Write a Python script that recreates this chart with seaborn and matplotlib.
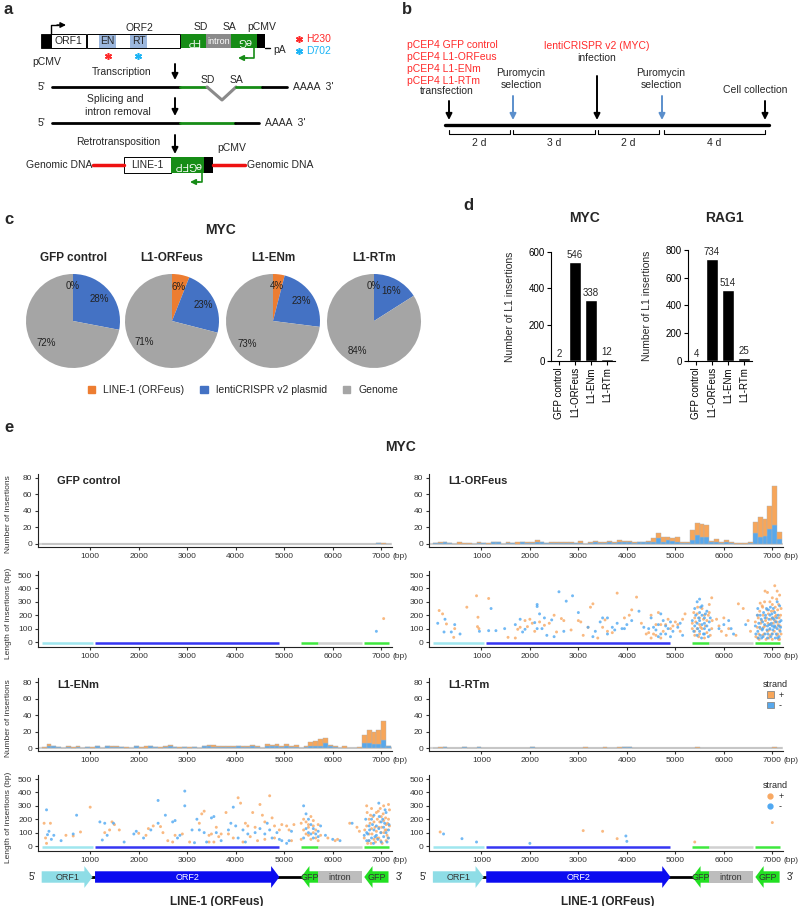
import numpy as np
import pandas as pd
import seaborn as sns
import matplotlib.pyplot as plt
from matplotlib.patches import Rectangle, Polygon, Patch
from matplotlib.lines import Line2D

sns.set_theme(style="ticks", rc={
    "axes.linewidth": 0.8,
    "axes.edgecolor": "#222222",
    "xtick.major.size": 2.5,
    "ytick.major.size": 2.5,
    "xtick.major.width": 0.8,
    "ytick.major.width": 0.8,
    "xtick.major.pad": 1.5,
    "ytick.major.pad": 1.5,
})
plt.rcParams["font.family"] = ["Liberation Sans", "DejaVu Sans"]

W, H = 799, 906

# ---------------- data ----------------
samples = ["GFP control", "L1-ORFeus", "L1-ENm", "L1-RTm"]
pie_line1 = [0, 6, 4, 0]
pie_plasmid = [28, 23, 23, 16]
pie_genome = [72, 71, 73, 84]
pie_labels = ["LINE-1 (ORFeus)", "lentiCRISPR v2 plasmid", "Genome"]

myc_insertions = [2, 546, 338, 12]
rag1_insertions = [4, 734, 514, 25]

# histogram bins of 100 bp along LINE-1 (ORFeus)
bin_starts = list(range(0, 7200, 100))
orfeus_minus_bins = [1, 1, 2, 1, 0, 0, 0, 0, 0, 1, 1, 0, 2, 2, 0, 1, 1, 0, 2, 1,
                     1, 3, 2, 1, 1, 1, 1, 1, 1, 1, 1, 0, 1, 2, 1, 1, 2, 1, 2, 2,
                     3, 1, 2, 2, 3, 2, 7, 3, 5, 4, 2, 1, 1, 5, 11, 8, 8, 2, 2, 1,
                     2, 1, 0, 0, 0, 1, 13, 8, 10, 18, 23, 6]
orfeus_plus_bins = [0, 1, 0, 0, 0, 3, 1, 1, 0, 2, 0, 1, 0, 0, 0, 1, 0, 2, 0, 1,
                    1, 2, 1, 0, 1, 1, 1, 2, 2, 0, 3, 0, 2, 2, 2, 2, 2, 2, 3, 2,
                    1, 2, 1, 1, 1, 5, 6, 5, 3, 3, 6, 1, 2, 12, 14, 16, 15, 2, 4, 2,
                    3, 2, 1, 1, 1, 1, 14, 25, 20, 28, 47, 9]
enm_minus_bins = [0, 2, 2, 1, 0, 1, 0, 1, 0, 1, 0, 2, 0, 2, 1, 1, 1, 0, 0, 2,
                  0, 0, 2, 1, 0, 1, 3, 1, 0, 1, 0, 1, 0, 2, 2, 1, 1, 1, 1, 1,
                  2, 1, 1, 2, 1, 0, 2, 2, 3, 1, 2, 1, 1, 0, 1, 2, 3, 3, 6, 2,
                  1, 0, 0, 0, 0, 0, 6, 6, 5, 5, 10, 2]
enm_plus_bins = [1, 3, 0, 0, 0, 1, 1, 1, 0, 0, 1, 0, 0, 0, 1, 2, 0, 1, 0, 0,
                 1, 2, 0, 0, 1, 1, 1, 0, 1, 0, 1, 0, 0, 1, 2, 3, 1, 2, 2, 1,
                 1, 2, 2, 2, 2, 0, 3, 2, 2, 1, 3, 2, 3, 0, 2, 5, 6, 8, 6, 2,
                 1, 0, 3, 0, 0, 1, 10, 16, 15, 17, 23, 1]

# insertion position (bp) and insertion length (bp)
gfp_plus = [(7050, 175)]
gfp_minus = [(6900, 80)]

rtm_plus = [(150, 105), (3100, 115), (3500, 110), (3800, 55), (5400, 30), (7000, 175)]
rtm_minus = [(220, 90), (600, 55), (900, 30), (2000, 20), (3980, 75), (4000, 35)]

orfeus_plus = [
    (130, 235), (200, 210), (280, 135), (450, 100), (430, 35), (700, 260), (900, 345), (930, 185),
    (920, 115), (950, 100), (1150, 325), (1550, 35), (1700, 30), (1750, 95), (1900, 160), (1950, 115),
    (2000, 170), (1800, 110), (2050, 140), (2200, 150), (2500, 200), (2550, 75), (2650, 175), (2700, 160),
    (2850, 90), (2400, 140), (2300, 125), (2100, 80), (3000, 160), (3050, 150), (3250, 260), (3300, 285),
    (3200, 110), (3400, 30), (3500, 110), (3550, 165), (3700, 70), (3800, 365), (3950, 180), (3600, 80),
    (3100, 50), (4100, 240), (4200, 335), (4050, 200), (4300, 140), (4400, 60), (4450, 70), (4500, 200),
    (4550, 60), (4600, 50), (4650, 220), (4700, 130), (4750, 80), (4800, 130), (4850, 170), (4900, 100),
    (4950, 120), (5000, 150), (4600, 130), (4500, 30), (4700, 30), (5050, 130), (5100, 80), (5200, 210),
    (5150, 170), (5350, 140), (5400, 180), (5450, 100), (5500, 60), (5550, 100), (5600, 200), (5650, 160),
    (5700, 280), (5750, 330), (5400, 50), (5500, 130), (5550, 250), (5650, 70), (5450, 210), (5350, 100),
    (5600, 30), (5700, 220), (5750, 100), (5500, 180), (5400, 80), (5850, 170), (5950, 80), (6000, 180),
    (6050, 50), (6100, 100), (6250, 50), (6300, 285), (6400, 250), (6500, 160), (6550, 80), (5900, 120),
    (6700, 200), (6750, 290), (6800, 260), (6850, 380), (6900, 370), (6950, 300), (7000, 280), (7050, 420),
    (7100, 380), (7150, 350), (6700, 30), (6750, 100), (6800, 50), (6850, 120), (6900, 80), (6950, 50),
    (7000, 20), (7050, 160), (7100, 50), (7150, 90), (6650, 150), (6720, 60), (6880, 180), (6980, 230),
    (7020, 140), (7080, 200), (7120, 130), (7170, 200), (6780, 160), (6930, 30), (7060, 260), (7140, 180),
    (6820, 110), (7010, 180), (6870, 20), (6960, 130), (7130, 20), (7090, 320),
    (6660, 40), (6690, 110), (6710, 180), (6740, 230), (6760, 140), (6790, 270), (6810, 200), (6830, 60),
    (6840, 300), (6860, 160), (6890, 240), (6910, 140), (6920, 210), (6940, 90), (6970, 170), (6990, 60),
    (7000, 330), (7030, 230), (7040, 80), (7060, 190), (7070, 110), (7090, 150), (7110, 240), (7110, 60),
    (7130, 280), (7150, 20), (7160, 120), (7180, 60), (7180, 250), (6730, 20),
    (5380, 220), (5420, 150), (5480, 40), (5520, 110), (5580, 170), (5620, 120), (5680, 200), (5720, 50),
    (5760, 160), (5460, 260),
]
orfeus_minus = [
    (100, 140), (250, 170), (230, 75), (450, 130), (380, 75), (560, 60), (960, 80), (1150, 85),
    (1200, 250), (1300, 85), (1480, 100), (1800, 170), (1900, 95), (1850, 75), (1700, 130), (2100, 145),
    (2150, 265), (2150, 280), (2200, 210), (2150, 100), (2300, 180), (2450, 165), (2600, 375), (2750, 305),
    (2880, 345), (2500, 40), (2700, 80), (2250, 100), (2350, 50), (3000, 220), (3200, 110), (3350, 80),
    (3450, 150), (3500, 180), (3600, 180), (3700, 110), (3750, 90), (3800, 140), (3900, 100), (3950, 100),
    (3600, 60), (3300, 40), (4000, 130), (4100, 160), (4250, 230), (4350, 110), (4450, 100), (4500, 180),
    (4600, 90), (4650, 130), (4700, 210), (4750, 160), (4800, 120), (4850, 100), (4900, 150), (4950, 80),
    (4650, 40), (4700, 60), (4800, 60), (4900, 40), (4550, 110), (5100, 140), (5150, 50), (5050, 110),
    (5400, 250), (5450, 300), (5500, 320), (5550, 270), (5600, 180), (5450, 140), (5500, 160), (5550, 130),
    (5600, 100), (5650, 120), (5400, 120), (5500, 80), (5600, 60), (5700, 90), (5450, 50), (5550, 200),
    (5650, 230), (5500, 220), (5350, 160), (5600, 140), (5700, 150), (5900, 100), (6000, 130), (6100, 160),
    (6200, 60), (6450, 130), (6150, 100), (6700, 250), (6750, 200), (6800, 150), (6850, 180), (6900, 120),
    (6950, 200), (7000, 180), (7050, 220), (7100, 300), (7150, 270), (6700, 80), (6750, 50), (6800, 100),
    (6850, 60), (6900, 30), (6950, 100), (7000, 60), (7050, 120), (7100, 100), (7150, 150), (6650, 120),
    (6720, 140), (6880, 250), (6980, 140), (7020, 250), (7080, 60), (7120, 200), (7170, 110), (6780, 30),
    (6930, 170), (7060, 30), (7140, 40), (6820, 220), (7010, 90),
    (6660, 60), (6690, 200), (6710, 30), (6740, 110), (6770, 170), (6790, 90), (6810, 40), (6840, 130),
    (6860, 200), (6890, 90), (6910, 60), (6920, 240), (6940, 130), (6970, 40), (6990, 210), (7030, 170),
    (7040, 110), (7070, 150), (7090, 180), (7110, 30), (7130, 120), (7160, 80), (7180, 160), (7000, 120),
    (6960, 260), (5380, 80), (5420, 200), (5480, 180), (5520, 260), (5580, 60), (5620, 210), (5680, 40),
    (5720, 180), (5460, 100), (5540, 30),
]

enm_plus = [
    (50, 170), (80, 60), (180, 170), (100, 20), (500, 80), (650, 75), (800, 105), (1000, 290),
    (1300, 100), (1400, 120), (1450, 180), (1500, 160), (1600, 120), (2000, 95), (2200, 130), (2300, 150),
    (2450, 145), (2600, 40), (2700, 30), (2750, 80), (2900, 90), (2500, 100), (2150, 80), (3050, 30),
    (3250, 170), (3300, 240), (3350, 260), (3450, 80), (3500, 90), (3600, 140), (3700, 90), (3800, 250),
    (3850, 90), (3950, 60), (3450, 30), (3550, 30), (3650, 70), (4050, 360), (4100, 320), (4200, 170),
    (4250, 150), (4300, 70), (4350, 250), (4400, 140), (4500, 310), (4550, 230), (4600, 180), (4700, 375),
    (4750, 210), (4800, 150), (4900, 120), (4950, 160), (4150, 30), (4450, 40), (4800, 60), (4600, 50),
    (5050, 150), (5100, 120), (5200, 160), (5150, 40), (5350, 170), (5400, 200), (5450, 180), (5500, 140),
    (5550, 220), (5600, 190), (5650, 120), (5700, 160), (5400, 120), (5500, 80), (5600, 100), (5650, 60),
    (5450, 90), (5550, 50), (5750, 80), (5350, 50), (5700, 40), (5500, 160), (5600, 150), (5900, 60),
    (6050, 40), (6100, 50), (6350, 170), (6500, 140), (6550, 110), (6700, 300), (6750, 200), (6800, 280),
    (6850, 180), (6900, 250), (6950, 140), (7000, 220), (7050, 300), (7100, 160), (7150, 310), (6700, 150),
    (6750, 90), (6800, 130), (6850, 50), (6900, 110), (6950, 60), (7000, 100), (7050, 190), (7100, 40),
    (7150, 200), (6650, 60), (6780, 230), (6880, 30), (6980, 280), (7080, 120), (7120, 80), (7170, 150),
    (6720, 20), (6920, 200), (7020, 20),
    (6660, 120), (6710, 250), (6740, 40), (6770, 170), (6810, 90), (6830, 220), (6870, 140), (6910, 60),
    (6940, 260), (6970, 180), (7010, 140), (7040, 240), (7060, 100), (7090, 210), (7110, 120), (7140, 60),
    (7170, 270), (6790, 20), (6990, 40), (7130, 170),
]
enm_minus = [
    (100, 270), (150, 110), (120, 85), (200, 50), (250, 80), (400, 40), (650, 90), (720, 230),
    (1200, 180), (1300, 170), (1250, 45), (1480, 170), (1700, 30), (1900, 90), (1950, 110), (1350, 80),
    (2100, 60), (2250, 120), (2400, 340), (2550, 230), (2700, 180), (2750, 190), (2800, 60), (2950, 410),
    (2950, 300), (2850, 80), (2400, 170), (3100, 120), (3200, 200), (3250, 120), (3350, 100), (3500, 210),
    (3550, 220), (3600, 100), (3700, 40), (3850, 120), (3900, 170), (3950, 290), (3150, 25), (3400, 30),
    (4000, 150), (4050, 60), (4150, 120), (4250, 90), (4400, 100), (4500, 130), (4600, 90), (4700, 120),
    (4750, 60), (4850, 100), (4900, 50), (4950, 40), (4200, 30), (4650, 170), (5050, 20), (5150, 110),
    (5100, 40), (5400, 300), (5450, 240), (5500, 200), (5550, 160), (5600, 130), (5650, 90), (5700, 70),
    (5400, 60), (5500, 100), (5600, 60), (5450, 130), (5550, 90), (5750, 150), (5700, 110), (5850, 80),
    (6000, 50), (6150, 40), (6400, 170), (6700, 100), (6750, 150), (6800, 200), (6850, 120), (6900, 80),
    (6950, 320), (7000, 180), (7050, 140), (7100, 100), (7150, 60), (6700, 40), (6800, 60), (6850, 230),
    (6950, 130), (7050, 70), (6650, 80), (6900, 150), (7000, 30), (7100, 250), (7150, 120), (6750, 40),
    (6680, 200), (6720, 90), (6760, 120), (6820, 160), (6870, 70), (6930, 50), (6960, 220), (6990, 100),
    (7030, 200), (7070, 170), (7120, 30), (7160, 160), (6840, 20), (7080, 270),
]

# LINE-1 (ORFeus) reporter features (bp)
feat_names = ["ORF1", "ORF2", "GFP", "intron", "GFP"]
feat_start = [0, 1100, 5350, 5700, 6650]
feat_end = [1050, 4900, 5700, 6600, 7150]

# ---------------- styles ----------------
pie_colors = ["#ED7D31", "#4472C4", "#A5A5A5"]
hist_pal = {"+": "#F7A65A", "-": "#58A8EC"}
pt_pal = {"+": "#F8A862", "-": "#4FA8F2"}
feat_line_colors = ["#9fe6ef", "#3535f2", "#3ee83e", "#d0d0d0", "#3ee83e"]
feat_fill = ["#8edde6", "#0b0bf0", "#22e022", "#bdbdbd", "#22e022"]
RED = "#ff2b2b"
CYAN = "#1cb4f5"
DKGREEN = "#168c16"
FS = 7.5


def px_axes(fig, x0, y0, x1, y1):
    return fig.add_axes([x0 / W, 1 - y1 / H, (x1 - x0) / W, (y1 - y0) / H])


def points_frame(plus, minus):
    rows = [(x, y, "+") for x, y in plus] + [(x, y, "-") for x, y in minus]
    df = pd.DataFrame(rows, columns=["pos", "len", "strand"])
    df["n"] = 1
    return df


def bins_frame(plus, minus):
    centers = [b + 50 for b in bin_starts]
    return pd.DataFrame({"pos": centers + centers, "n": plus + minus,
                         "strand": ["+"] * len(plus) + ["-"] * len(minus)})


fig = plt.figure(figsize=(W / 100, H / 100), dpi=100)

# overlay for schematic parts (pixel coordinates)
ov = fig.add_axes([0, 0, 1, 1])
ov.set_xlim(0, W)
ov.set_ylim(H, 0)
ov.axis("off")


def t(x, y, s, **kw):
    kw.setdefault("fontsize", FS)
    kw.setdefault("ha", "center")
    kw.setdefault("va", "center")
    ov.text(x, y, s, **kw)


def down_arrow(x, y0, y1, color="black"):
    ov.annotate("", xy=(x, y1), xytext=(x, y0),
                arrowprops=dict(arrowstyle="-|>", color=color, lw=1.4,
                                mutation_scale=9, shrinkA=0, shrinkB=0))


def star(x, y, color):
    ov.plot([x], [y], marker=(6, 2, 0), ms=5, mew=1.1, color=color)


# panel letters
for lab, x, y in [("a", 4, 9), ("b", 402, 10), ("c", 4, 220), ("d", 463, 206), ("e", 4, 428)]:
    t(x, y, lab, fontsize=12, fontweight="bold", ha="left")

# ---------------- panel a ----------------
y0, y1 = 34, 48
ov.add_patch(Rectangle((41, y0), 10, y1 - y0, fc="black", ec="black", lw=0.6))
ov.add_patch(Rectangle((51, y0), 35, y1 - y0, fc="white", ec="black", lw=0.7))
t(68.5, 41.5, "ORF1")
ov.add_patch(Rectangle((87, y0), 93, y1 - y0, fc="white", ec="black", lw=0.7))
ov.add_patch(Rectangle((99, y0 + 0.5), 17, y1 - y0 - 1, fc="#9cb7dd", ec="none"))
ov.add_patch(Rectangle((130, y0 + 0.5), 17, y1 - y0 - 1, fc="#9cb7dd", ec="none"))
t(107.5, 41.5, "EN")
t(138.5, 41.5, "RT")
ov.add_patch(Rectangle((181, y0), 25, y1 - y0, fc=DKGREEN, ec="none"))
ov.add_patch(Rectangle((206, y0), 25, y1 - y0, fc="#8a8a8a", ec="none"))
ov.add_patch(Rectangle((231, y0), 26, y1 - y0, fc=DKGREEN, ec="none"))
ov.add_patch(Rectangle((257, y0), 8, y1 - y0, fc="black", ec="none"))
ov.plot([265, 270], [y1, y1], color="black", lw=1)
t(193.5, 41.5, "FP", color="white", rotation=180)
t(218.5, 41.5, "intron", color="white", fontsize=6.5)
t(244, 41.5, "eG", color="white", rotation=180)
t(139, 28, "ORF2")
t(201, 27, "SD")
t(229, 27, "SA")
t(262, 27, "pCMV")
t(273, 50, "pA", ha="left")
t(47, 62, "pCMV")
ov.plot([50.5, 50.5, 58], [y0, 25, 25], color="black", lw=1)
ov.annotate("", xy=(66, 25), xytext=(57, 25),
            arrowprops=dict(arrowstyle="-|>", color="black", lw=1, mutation_scale=8, shrinkA=0, shrinkB=0))
ov.plot([254, 254, 246], [y1, 58, 58], color=DKGREEN, lw=1.2)
ov.annotate("", xy=(238, 58), xytext=(247, 58),
            arrowprops=dict(arrowstyle="-|>", color=DKGREEN, lw=1.2, mutation_scale=8, shrinkA=0, shrinkB=0))
star(108, 56, RED)
star(138, 56, CYAN)
star(299, 39, RED)
t(306, 39, "H230", color=RED, ha="left")
star(299, 51, CYAN)
t(306, 51, "D702", color=CYAN, ha="left")

t(122, 72, "Transcription")
down_arrow(175, 64, 80)
t(42, 87, "5'", ha="center")
ov.plot([52, 180], [87, 87], color="black", lw=2)
ov.plot([180, 207], [87, 87], color=DKGREEN, lw=2)
ov.plot([207, 222, 236], [87, 100, 87], color="#8a8a8a", lw=2.2)
ov.plot([236, 262], [87, 87], color=DKGREEN, lw=2)
ov.plot([262, 287], [87, 87], color="black", lw=2)
t(293, 87, "AAAA  3'", ha="left")
t(208, 80, "SD")
t(236, 80, "SA")

t(115, 99, "Splicing and")
t(118, 112, "intron removal")
down_arrow(175, 98, 116)
t(42, 123, "5'")
ov.plot([52, 180], [123, 123], color="black", lw=2)
ov.plot([180, 235], [123, 123], color=DKGREEN, lw=2)
ov.plot([235, 259], [123, 123], color="black", lw=2)
t(265, 123, "AAAA  3'", ha="left")

t(118, 142, "Retrotransposition")
down_arrow(175, 135, 154)
t(232, 148, "pCMV")
t(59, 165, "Genomic DNA")
ov.plot([93, 124], [165, 165], color="#ee1111", lw=2.5)
ov.add_patch(Rectangle((124, 157), 47, 16, fc="white", ec="black", lw=0.7))
t(147.5, 165, "LINE-1")
ov.add_patch(Rectangle((171, 157), 33, 16, fc=DKGREEN, ec="none"))
t(187.5, 165, "eGFP", color="white", rotation=180)
ov.add_patch(Rectangle((204, 157), 9, 16, fc="black", ec="none"))
ov.plot([213, 245], [165, 165], color="#ee1111", lw=2.5)
t(280, 165, "Genomic DNA")
ov.plot([202, 202, 198], [173, 182, 182], color=DKGREEN, lw=1.2)
ov.annotate("", xy=(190, 182), xytext=(199, 182),
            arrowprops=dict(arrowstyle="-|>", color=DKGREEN, lw=1.2, mutation_scale=8, shrinkA=0, shrinkB=0))

# ---------------- panel b ----------------
for i, s in enumerate(["pCEP4 GFP control", "pCEP4 L1-ORFeus", "pCEP4 L1-ENm", "pCEP4 L1-RTm"]):
    t(407, 45 + 12 * i, s, color=RED, ha="left")
t(447, 91, "transfection")
t(521, 73, "Puromycin")
t(521, 85, "selection")
t(597, 46, "lentiCRISPR v2 (MYC)", color=RED)
t(597, 58, "infection")
t(661, 73, "Puromycin")
t(661, 85, "selection")
t(755, 90, "Cell collection")
down_arrow(449, 101, 120)
down_arrow(513, 96, 120, color="#5b8fcc")
down_arrow(597, 76, 120)
down_arrow(662, 96, 120, color="#5b8fcc")
down_arrow(765, 101, 120)
ov.plot([445, 769], [125, 125], color="black", lw=2.4)
for (a, b), lab in zip([(449, 510), (513, 595), (598, 659), (664, 765)], ["2 d", "3 d", "2 d", "4 d"]):
    ov.plot([a, a, b, b], [130, 134, 134, 130], color="black", lw=0.8)
    t((a + b) / 2, 143, lab)

# ---------------- panel c: pies ----------------
t(220, 230, "MYC", fontsize=10, fontweight="bold")
pie_cx = [73, 172, 273, 374]
for i, name in enumerate(samples):
    cx, cy, r = pie_cx[i], 321, 47
    ax = px_axes(fig, cx - r, cy - r, cx + r, cy + r)
    vals = [pie_line1[i], pie_plasmid[i], pie_genome[i]]
    ax.pie(vals, colors=pie_colors, startangle=90, counterclock=False,
           autopct=lambda p: f"{p:.0f}%", pctdistance=0.74,
           textprops=dict(fontsize=7, color="#222222"),
           wedgeprops=dict(linewidth=0))
    ax.set_xlim(-1, 1)
    ax.set_ylim(-1, 1)
    t(cx, 258, name, fontsize=8.5, fontweight="bold")

fig.legend(handles=[Patch(color=c) for c in pie_colors], labels=pie_labels,
           loc="center", bbox_to_anchor=(243 / W, 1 - 390 / H), ncol=3, frameon=False,
           fontsize=FS, handlelength=0.7, handleheight=0.7, handletextpad=0.8, columnspacing=1.5)

# ---------------- panel d: bars ----------------
for counts, (x0, x1), ytop, ymax, title, tx in [
        (myc_insertions, (551, 615), 252, 600, "MYC", 585),
        (rag1_insertions, (688, 752), 250, 800, "RAG1", 724)]:
    ax = px_axes(fig, x0, ytop, x1, 361)
    sns.barplot(x=samples, y=counts, color="black", saturation=1, width=0.72, ax=ax)
    ax.set_xlim(-0.5, 3.5)
    ax.set_ylim(0, ymax)
    ax.set_yticks(range(0, ymax + 1, 200))
    ax.tick_params(axis="both", labelsize=7, colors="black", length=3)
    ax.tick_params(axis="x", rotation=90)
    ax.set_xlabel("")
    ax.set_ylabel("Number of L1 insertions", fontsize=7.5)
    ax.yaxis.set_label_coords(-0.56, 0.5)
    for i, v in enumerate(counts):
        ax.text(i, v + ymax * 0.015, str(v), ha="center", va="bottom", fontsize=7)
    sns.despine(ax=ax)
    ax.spines["left"].set_color("black")
    ax.spines["bottom"].set_color("black")
    t(tx, 218, title, fontsize=10, fontweight="bold")

# ---------------- panel e ----------------
t(401, 447, "MYC", fontsize=10, fontweight="bold")

hist_frames = [points_frame(gfp_plus, gfp_minus), bins_frame(orfeus_plus_bins, orfeus_minus_bins),
               bins_frame(enm_plus_bins, enm_minus_bins), points_frame(rtm_plus, rtm_minus)]
point_frames = [points_frame(gfp_plus, gfp_minus), points_frame(orfeus_plus, orfeus_minus),
                points_frame(enm_plus, enm_minus), points_frame(rtm_plus, rtm_minus)]
cols = [(37.8, 391.9), (429, 783)]
rows = [((473.6, 547.3), (571, 647.4)), ((678, 751.3), (775, 851.4))]
XL = (-80, 7220)


def style_axis(ax):
    sns.despine(ax=ax)
    ax.set_xlim(*XL)
    ax.set_xticks([1000, 2000, 3000, 4000, 5000, 6000, 7000])
    ax.tick_params(axis="both", labelsize=6, colors="#333333", length=2.5)
    ax.set_xlabel("")
    ax.annotate("(bp)", xy=(1.0, 0), xycoords="axes fraction", xytext=(0.5, -4.2),
                textcoords="offset points", ha="left", va="top", fontsize=6, color="#333333",
                annotation_clip=False)


for k, name in enumerate(samples):
    r, c = divmod(k, 2)
    (hy, sy) = rows[r]
    x0, x1 = cols[c]

    ax = px_axes(fig, x0, hy[0], x1, hy[1])
    ax.axhline(0, color="#d4d4d4", lw=1.6, zorder=0)
    sns.histplot(data=hist_frames[k], x="pos", weights="n", hue="strand", hue_order=["+", "-"],
                 multiple="stack", binwidth=100, binrange=(0, 7200), palette=hist_pal,
                 edgecolor="#b0b0b0", linewidth=0.3, alpha=1, legend=False, ax=ax)
    ax.set_ylim(-4, 85)
    ax.set_yticks([0, 20, 40, 60, 80])
    style_axis(ax)
    ax.set_ylabel("Number of insertions" if c == 0 else "", fontsize=6, color="#333333")
    ax.yaxis.set_label_coords(-0.072, 0.45)
    ax.text(0.055, 0.97, name, transform=ax.transAxes, fontsize=8, fontweight="bold", va="top")
    if k == 3:
        ax.legend(handles=[Patch(fc=hist_pal["+"], ec="#888888", lw=0.6),
                           Patch(fc=hist_pal["-"], ec="#888888", lw=0.6)],
                  labels=["+", "-"], title="strand", loc="upper left",
                  bbox_to_anchor=(757 / W, 1 - 675 / H), bbox_transform=fig.transFigure,
                  frameon=False, fontsize=6.5, title_fontsize=6.5, handlelength=0.8,
                  handleheight=0.8, handletextpad=0.5, labelspacing=0.15, borderpad=0.1)

    ax = px_axes(fig, x0, sy[0], x1, sy[1])
    for s, e, col in zip(feat_start, feat_end, feat_line_colors):
        ax.plot([s, e], [-8, -8], color=col, lw=1.8, solid_capstyle="butt")
    sns.scatterplot(data=point_frames[k], x="pos", y="len", hue="strand", hue_order=["+", "-"],
                    palette=pt_pal, s=4.5, alpha=0.8, linewidth=0, legend=False, ax=ax)
    ax.set_ylim(-40, 530)
    ax.set_yticks([0, 100, 200, 300, 400, 500])
    style_axis(ax)
    ax.set_ylabel("Length of insertions (bp)" if c == 0 else "", fontsize=6, color="#333333")
    ax.yaxis.set_label_coords(-0.072, 0.45)
    if k == 3:
        ax.legend(handles=[Line2D([], [], marker="o", ls="", color=pt_pal["+"], ms=3.5),
                           Line2D([], [], marker="o", ls="", color=pt_pal["-"], ms=3.5)],
                  labels=["+", "-"], title="strand", loc="upper left",
                  bbox_to_anchor=(757 / W, 1 - 776 / H), bbox_transform=fig.transFigure,
                  frameon=False, fontsize=6.5, title_fontsize=6.5, handlelength=0.8,
                  handletextpad=0.5, labelspacing=0.15, borderpad=0.1)

# gene diagrams below the bottom row
for x0, x1 in cols:
    ax = px_axes(fig, x0, 864, x1, 890)
    ax.set_xlim(*XL)
    ax.set_ylim(0, 1)
    ax.axis("off")
    ax.plot([1000, 5400], [0.5, 0.5], color="black", lw=2, zorder=1)
    head = 170
    for name, s, e, col in zip(feat_names, feat_start, feat_end, feat_fill):
        if name in ("ORF1", "ORF2"):
            pts = [(s, 0.28), (e - head, 0.28), (e - head, 0.08), (e, 0.5),
                   (e - head, 0.92), (e - head, 0.72), (s, 0.72)]
        elif name == "GFP":
            pts = [(e, 0.28), (s + head, 0.28), (s + head, 0.08), (s, 0.5),
                   (s + head, 0.92), (s + head, 0.72), (e, 0.72)]
        else:
            pts = [(s, 0.28), (e, 0.28), (e, 0.72), (s, 0.72)]
        ax.add_patch(Polygon(pts, closed=True, fc=col, ec="none", zorder=2))
        tc = "white" if name == "ORF2" else "#333333"
        ax.text((s + e) / 2, 0.5, name, ha="center", va="center", fontsize=6.5, color=tc, zorder=3)
    ax.text(-200, 0.5, "5'", ha="center", va="center", fontsize=7, clip_on=False)
    ax.text(7370, 0.5, "3'", ha="center", va="center", fontsize=7, clip_on=False)
    ax.text(3600, -0.45, "LINE-1 (ORFeus)", ha="center", va="center", fontsize=8.5,
            fontweight="bold", clip_on=False)

fig.savefig("out.png", dpi=100)
